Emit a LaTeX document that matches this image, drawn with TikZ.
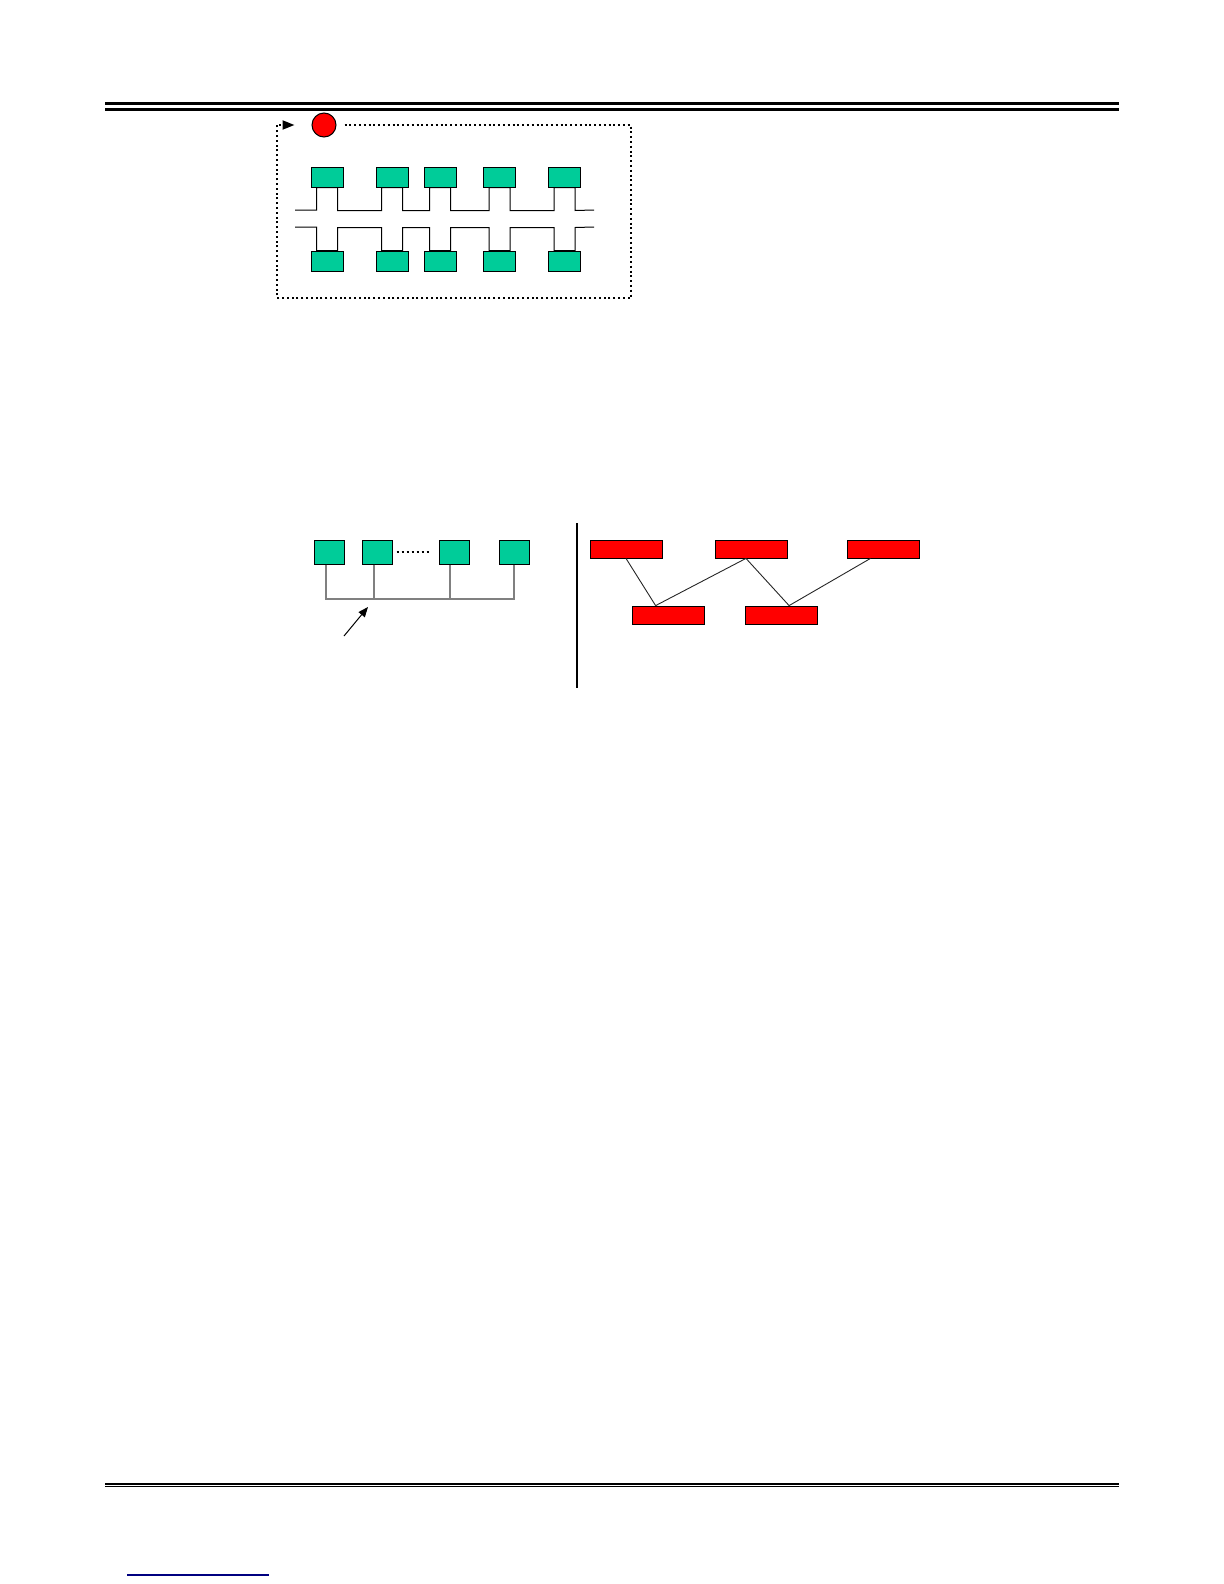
\documentclass[tikz,border=0pt]{standalone}
\usepackage{tikz}
\usepackage{xcolor}
\usetikzlibrary{arrows.meta,calc,positioning}
\definecolor{cellgreen}{RGB}{0,204,153}
\definecolor{linkblue}{RGB}{0,0,128}

\begin{document}
\begin{tikzpicture}[x=0.5bp, y=-0.5bp,
    cell/.style={draw, fill=cellgreen, line width=0.5bp, inner sep=0pt, minimum width=16bp, minimum height=10bp},
    station/.style={draw, fill=cellgreen, line width=0.5bp, inner sep=0pt, minimum width=15bp, minimum height=12bp},
    redbox/.style={draw, fill=red, line width=0.4bp, inner sep=0pt, minimum width=36bp, minimum height=9bp},
    wire/.style={line width=0.5bp},
    bus/.style={gray, line width=0.6bp},
    link/.style={black!85, line width=0.45bp},
    ring/.style={line width=1bp, dash pattern=on 1bp off 1.4bp, -{Triangle[length=6bp,width=4.5bp]}},
    pointer/.style={line width=0.5bp, -{Triangle[length=5bp,width=4bp]}}]
        \useasboundingbox (0,0) rectangle (1224,1584);

        % Header and footer rules
        \draw [line width=1.5bp] (105,103.3) -- (1119,103.3);
        \draw [line width=1.6bp] (105,109.2) -- (1119,109.2);
        \draw [line width=0.6bp] (105,1484) -- (1119,1484);
        \draw [line width=0.6bp] (105,1486.6) -- (1119,1486.6);
        \draw [linkblue, line width=0.65bp] (127,1575) -- (269,1575);

        % Ring: token and dotted loop
        \node [circle, draw, fill=red, line width=0.5bp, inner sep=0pt, minimum size=12bp] (token) at (324,125) {};
        \coordinate (ringNE) at (631,125);
        \coordinate (ringSW) at (277,298);
        \draw [ring] ($(token.east)+(8,0)$) -- (ringNE) |- (ringSW) |- ($(token.west)+(-17,0)$);

        % Upper stations
        \node [cell] (u1) at (327,177) {};
        \node [cell, right=16bp of u1] (u2) {};
        \node [cell, right=7.5bp of u2] (u3) {};
        \node [cell, right=13.25bp of u3] (u4) {};
        \node [cell, right=16bp of u4] (u5) {};

        % Lower stations
        \node [cell, below=31.5bp of u1] (d1) {};
        \node [cell, below=31.5bp of u2] (d2) {};
        \node [cell, below=31.5bp of u3] (d3) {};
        \node [cell, below=31.5bp of u4] (d4) {};
        \node [cell, below=31.5bp of u5] (d5) {};

        % Ring wires
        \coordinate (upL) at (295,210);
        \coordinate (upR) at (594,210);
        \coordinate (dnL) at (295,227);
        \coordinate (dnR) at (594,227);
        \draw [wire] (upL) -| ([xshift=-5.25bp]u1.south) -- ([xshift=5.25bp]u1.south) -- ++(0,23)
            -| ([xshift=-5.25bp]u2.south) -- ([xshift=5.25bp]u2.south) -- ++(0,23)
            -| ([xshift=-5.25bp]u3.south) -- ([xshift=5.25bp]u3.south) -- ++(0,23)
            -| ([xshift=-5.25bp]u4.south) -- ([xshift=5.25bp]u4.south) -- ++(0,23)
            -| ([xshift=-5.25bp]u5.south) -- ([xshift=5.25bp]u5.south) -- ++(0,23) -- (upR);
        \draw [wire] (dnL) -| ([xshift=-5.25bp]d1.north) -- ([xshift=5.25bp]d1.north) -- ++(0,-23)
            -| ([xshift=-5.25bp]d2.north) -- ([xshift=5.25bp]d2.north) -- ++(0,-23)
            -| ([xshift=-5.25bp]d3.north) -- ([xshift=5.25bp]d3.north) -- ++(0,-23)
            -| ([xshift=-5.25bp]d4.north) -- ([xshift=5.25bp]d4.north) -- ++(0,-23)
            -| ([xshift=-5.25bp]d5.north) -- ([xshift=5.25bp]d5.north) -- ++(0,-23) -- (dnR);

        % Bus stations
        \node [station] (b1) at (329,552) {};
        \node [station, right=8.5bp of b1] (b2) {};
        \node [station, right=23bp of b2] (b3) {};
        \node [station, right=14.5bp of b3] (b4) {};
        \draw [line width=1bp, dash pattern=on 1bp off 1.5bp, shorten <=2bp, shorten >=4bp] (b2.east) -- (b3.west);

        % Bus
        \coordinate (busline) at (0,599);
        \draw [bus] ([xshift=-1.5bp]b1.south) -- ([xshift=-1.5bp]b1.south |- busline) -- (b4.south |- busline) -- (b4.south);
        \draw [bus] ([xshift=-1.5bp]b2.south) -- ([xshift=-1.5bp]b2.south |- busline);
        \draw [bus] ([xshift=-2bp]b3.south) -- ([xshift=-2bp]b3.south |- busline);
        \coordinate (tail) at (344,636);
        \coordinate (tip) at (368,607);
        \draw [pointer] (tail) -- (tip);

        % Divider
        \draw [line width=1.25bp] (577,523) -- (577,688);

        % Mesh
        \node [redbox] (t1) at (626,549) {};
        \node [redbox, right=26.5bp of t1] (t2) {};
        \node [redbox, right=29.5bp of t2] (t3) {};
        \node [redbox] (s1) at (668,615) {};
        \node [redbox, right=20.5bp of s1] (s2) {};
        \coordinate (t2p) at ($(t2.south west)!0.42!(t2.south east)$);
        \coordinate (t3p) at ($(t3.south west)!0.32!(t3.south east)$);
        \coordinate (s1p) at ($(s1.north west)!0.33!(s1.north east)$);
        \coordinate (s2p) at ($(s2.north west)!0.6!(s2.north east)$);
        \draw [link] (t1.south) -- (s1p);
        \draw [link] (t2p) -- (s1p);
        \draw [link] (t2p) -- (s2p);
        \draw [link] (t3p) -- (s2p);
    \end{tikzpicture}
\end{document}
